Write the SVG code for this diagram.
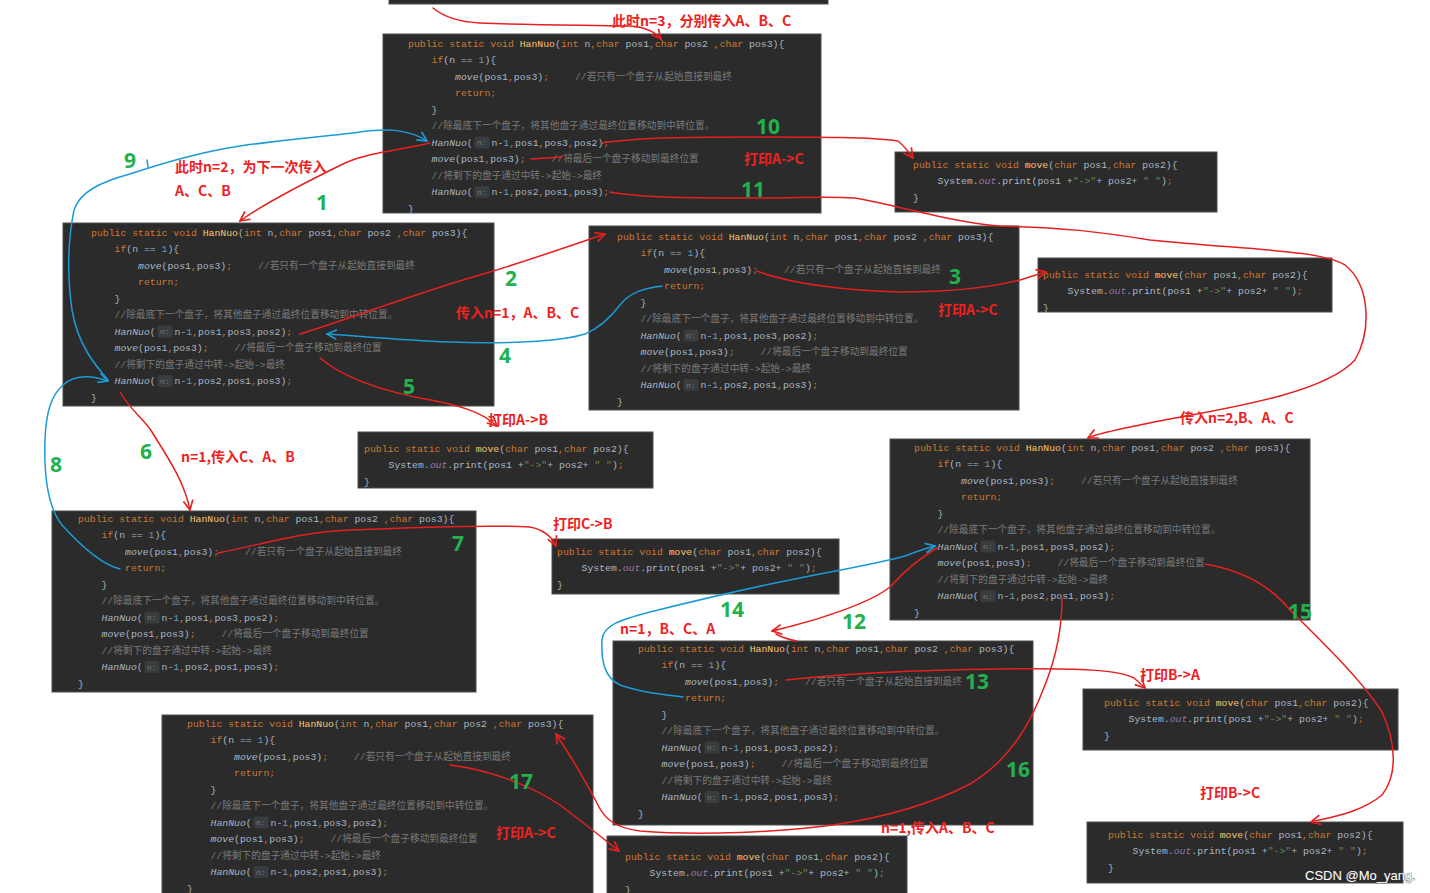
<svg xmlns="http://www.w3.org/2000/svg" width="1430" height="893" viewBox="0 0 1430 893">
<style>
.bg{fill:#2b2b2b;stroke:#4e4e4e;stroke-width:1}
.c{font-family:"Liberation Mono","DejaVu Sans Mono",monospace;font-size:9.8px;white-space:pre}
.m{font-family:"Liberation Mono","Noto Sans CJK SC",monospace;font-size:9.7px;fill:#7a7a7a;white-space:pre}
.k{fill:#cc7832}
.f{fill:#ffc66d}
.t{fill:#a9b7c6}
.n{fill:#6897bb}
.i{font-style:italic}
.p{fill:#9876aa}
.s{fill:#6a8759}
.h{fill:#3a3d40}
.hn{font-family:"Liberation Mono",monospace;font-size:8px;fill:#787878}
.r{font-family:"Noto Sans CJK SC",sans-serif;font-weight:700;font-size:14px;fill:#ee2222}
.g{font-family:"Noto Sans","Noto Sans CJK SC",sans-serif;font-weight:700;font-size:21px;fill:#22b14c;text-anchor:middle}
.lr{fill:none;stroke:#e62020;stroke-width:1.5;stroke-linecap:round;stroke-linejoin:round}
.lb{fill:none;stroke:#1c9ad6;stroke-width:1.5;stroke-linecap:round;stroke-linejoin:round}
.wm{font-family:"Liberation Sans","Noto Sans",sans-serif;font-size:13px;fill:#ffffff;stroke:#444;stroke-width:0.7;paint-order:stroke}
</style>
<defs>
<marker id="ar" viewBox="0 0 10 10" refX="9" refY="5" markerWidth="12" markerHeight="12" markerUnits="userSpaceOnUse" orient="auto"><path d="M1,1 L9,5 L1,9" fill="none" stroke="#e62020" stroke-width="1.4"/></marker>
<marker id="ab" viewBox="0 0 10 10" refX="9" refY="5" markerWidth="12" markerHeight="12" markerUnits="userSpaceOnUse" orient="auto"><path d="M1,1 L9,5 L1,9" fill="none" stroke="#1c9ad6" stroke-width="1.4"/></marker>
</defs>
<rect width="1430" height="893" fill="#ffffff"/>

<g id="top-strip"><rect class="bg" x="389" y="-2" width="439" height="6"/></g>

<!-- HanNuo block 1 -->
<g id="hannuo-n3">
<rect class="bg" x="383" y="34" width="438" height="179"/>
<g transform="translate(408,46.5)">
<text class="c" y="0"><tspan class="k">public static void </tspan><tspan class="f">HanNuo</tspan><tspan class="t">(</tspan><tspan class="k">int </tspan><tspan class="t">n</tspan><tspan class="k">,char </tspan><tspan class="t">pos1</tspan><tspan class="k">,char </tspan><tspan class="t">pos2 </tspan><tspan class="k">,char </tspan><tspan class="t">pos3){</tspan></text>
<text class="c" x="23.5" y="16.5"><tspan class="k">if</tspan><tspan class="t">(n == </tspan><tspan class="n">1</tspan><tspan class="t">){</tspan></text>
<text class="c" x="47" y="33"><tspan class="t i">move</tspan><tspan class="t">(pos1</tspan><tspan class="k">,</tspan><tspan class="t">pos3)</tspan><tspan class="k">;</tspan></text>
<text class="m" x="167" y="33">//若只有一个盘子从起始直接到最终</text>
<text class="c k" x="47" y="49.5">return;</text>
<text class="c t" x="23.5" y="66">}</text>
<text class="m" x="23.5" y="82.5">//除最底下一个盘子，将其他盘子通过最终位置移动到中转位置。</text>
<text class="c" x="23.5" y="99"><tspan class="t i">HanNuo</tspan><tspan class="t">(</tspan></text>
<rect class="h" x="66.5" y="90" width="15" height="12" rx="2"/><text class="hn" x="69" y="98.5">n:</text>
<text class="c" x="83.5" y="99"><tspan class="t">n-</tspan><tspan class="n">1</tspan><tspan class="k">,</tspan><tspan class="t">pos1</tspan><tspan class="k">,</tspan><tspan class="t">pos3</tspan><tspan class="k">,</tspan><tspan class="t">pos2)</tspan><tspan class="k">;</tspan></text>
<text class="c" x="23.5" y="115.5"><tspan class="t i">move</tspan><tspan class="t">(pos1</tspan><tspan class="k">,</tspan><tspan class="t">pos3)</tspan><tspan class="k">;</tspan></text>
<text class="m" x="143.5" y="115.5">//将最后一个盘子移动到最终位置</text>
<text class="m" x="23.5" y="132">//将剩下的盘子通过中转-&gt;起始-&gt;最终</text>
<text class="c" x="23.5" y="148.5"><tspan class="t i">HanNuo</tspan><tspan class="t">(</tspan></text>
<rect class="h" x="66.5" y="139.5" width="15" height="12" rx="2"/><text class="hn" x="69" y="148">n:</text>
<text class="c" x="83.5" y="148.5"><tspan class="t">n-</tspan><tspan class="n">1</tspan><tspan class="k">,</tspan><tspan class="t">pos2</tspan><tspan class="k">,</tspan><tspan class="t">pos1</tspan><tspan class="k">,</tspan><tspan class="t">pos3)</tspan><tspan class="k">;</tspan></text>
<text class="c t" y="165">}</text>
</g>
</g>

<!-- HanNuo block 2 -->
<g id="hannuo-n2-acb">
<rect class="bg" x="63" y="223" width="431" height="183"/>
<g transform="translate(91,235.5)">
<text class="c" y="0"><tspan class="k">public static void </tspan><tspan class="f">HanNuo</tspan><tspan class="t">(</tspan><tspan class="k">int </tspan><tspan class="t">n</tspan><tspan class="k">,char </tspan><tspan class="t">pos1</tspan><tspan class="k">,char </tspan><tspan class="t">pos2 </tspan><tspan class="k">,char </tspan><tspan class="t">pos3){</tspan></text>
<text class="c" x="23.5" y="16.5"><tspan class="k">if</tspan><tspan class="t">(n == </tspan><tspan class="n">1</tspan><tspan class="t">){</tspan></text>
<text class="c" x="47" y="33"><tspan class="t i">move</tspan><tspan class="t">(pos1</tspan><tspan class="k">,</tspan><tspan class="t">pos3)</tspan><tspan class="k">;</tspan></text>
<text class="m" x="167" y="33">//若只有一个盘子从起始直接到最终</text>
<text class="c k" x="47" y="49.5">return;</text>
<text class="c t" x="23.5" y="66">}</text>
<text class="m" x="23.5" y="82.5">//除最底下一个盘子，将其他盘子通过最终位置移动到中转位置。</text>
<text class="c" x="23.5" y="99"><tspan class="t i">HanNuo</tspan><tspan class="t">(</tspan></text>
<rect class="h" x="66.5" y="90" width="15" height="12" rx="2"/><text class="hn" x="69" y="98.5">n:</text>
<text class="c" x="83.5" y="99"><tspan class="t">n-</tspan><tspan class="n">1</tspan><tspan class="k">,</tspan><tspan class="t">pos1</tspan><tspan class="k">,</tspan><tspan class="t">pos3</tspan><tspan class="k">,</tspan><tspan class="t">pos2)</tspan><tspan class="k">;</tspan></text>
<text class="c" x="23.5" y="115.5"><tspan class="t i">move</tspan><tspan class="t">(pos1</tspan><tspan class="k">,</tspan><tspan class="t">pos3)</tspan><tspan class="k">;</tspan></text>
<text class="m" x="143.5" y="115.5">//将最后一个盘子移动到最终位置</text>
<text class="m" x="23.5" y="132">//将剩下的盘子通过中转-&gt;起始-&gt;最终</text>
<text class="c" x="23.5" y="148.5"><tspan class="t i">HanNuo</tspan><tspan class="t">(</tspan></text>
<rect class="h" x="66.5" y="139.5" width="15" height="12" rx="2"/><text class="hn" x="69" y="148">n:</text>
<text class="c" x="83.5" y="148.5"><tspan class="t">n-</tspan><tspan class="n">1</tspan><tspan class="k">,</tspan><tspan class="t">pos2</tspan><tspan class="k">,</tspan><tspan class="t">pos1</tspan><tspan class="k">,</tspan><tspan class="t">pos3)</tspan><tspan class="k">;</tspan></text>
<text class="c t" y="165">}</text>
</g>
</g>

<!-- HanNuo block 3 -->
<g id="hannuo-n1-abc">
<rect class="bg" x="589" y="226" width="430" height="184"/>
<g transform="translate(617,239.5)">
<text class="c" y="0"><tspan class="k">public static void </tspan><tspan class="f">HanNuo</tspan><tspan class="t">(</tspan><tspan class="k">int </tspan><tspan class="t">n</tspan><tspan class="k">,char </tspan><tspan class="t">pos1</tspan><tspan class="k">,char </tspan><tspan class="t">pos2 </tspan><tspan class="k">,char </tspan><tspan class="t">pos3){</tspan></text>
<text class="c" x="23.5" y="16.5"><tspan class="k">if</tspan><tspan class="t">(n == </tspan><tspan class="n">1</tspan><tspan class="t">){</tspan></text>
<text class="c" x="47" y="33"><tspan class="t i">move</tspan><tspan class="t">(pos1</tspan><tspan class="k">,</tspan><tspan class="t">pos3)</tspan><tspan class="k">;</tspan></text>
<text class="m" x="167" y="33">//若只有一个盘子从起始直接到最终</text>
<text class="c k" x="47" y="49.5">return;</text>
<text class="c t" x="23.5" y="66">}</text>
<text class="m" x="23.5" y="82.5">//除最底下一个盘子，将其他盘子通过最终位置移动到中转位置。</text>
<text class="c" x="23.5" y="99"><tspan class="t i">HanNuo</tspan><tspan class="t">(</tspan></text>
<rect class="h" x="66.5" y="90" width="15" height="12" rx="2"/><text class="hn" x="69" y="98.5">n:</text>
<text class="c" x="83.5" y="99"><tspan class="t">n-</tspan><tspan class="n">1</tspan><tspan class="k">,</tspan><tspan class="t">pos1</tspan><tspan class="k">,</tspan><tspan class="t">pos3</tspan><tspan class="k">,</tspan><tspan class="t">pos2)</tspan><tspan class="k">;</tspan></text>
<text class="c" x="23.5" y="115.5"><tspan class="t i">move</tspan><tspan class="t">(pos1</tspan><tspan class="k">,</tspan><tspan class="t">pos3)</tspan><tspan class="k">;</tspan></text>
<text class="m" x="143.5" y="115.5">//将最后一个盘子移动到最终位置</text>
<text class="m" x="23.5" y="132">//将剩下的盘子通过中转-&gt;起始-&gt;最终</text>
<text class="c" x="23.5" y="148.5"><tspan class="t i">HanNuo</tspan><tspan class="t">(</tspan></text>
<rect class="h" x="66.5" y="139.5" width="15" height="12" rx="2"/><text class="hn" x="69" y="148">n:</text>
<text class="c" x="83.5" y="148.5"><tspan class="t">n-</tspan><tspan class="n">1</tspan><tspan class="k">,</tspan><tspan class="t">pos2</tspan><tspan class="k">,</tspan><tspan class="t">pos1</tspan><tspan class="k">,</tspan><tspan class="t">pos3)</tspan><tspan class="k">;</tspan></text>
<text class="c t" y="165">}</text>
</g>
</g>

<!-- HanNuo block 4 (n=2, B A C) -->
<g id="hannuo-n2-bac">
<rect class="bg" x="890" y="439" width="420" height="181"/>
<g transform="translate(914,450.5)">
<text class="c" y="0"><tspan class="k">public static void </tspan><tspan class="f">HanNuo</tspan><tspan class="t">(</tspan><tspan class="k">int </tspan><tspan class="t">n</tspan><tspan class="k">,char </tspan><tspan class="t">pos1</tspan><tspan class="k">,char </tspan><tspan class="t">pos2 </tspan><tspan class="k">,char </tspan><tspan class="t">pos3){</tspan></text>
<text class="c" x="23.5" y="16.5"><tspan class="k">if</tspan><tspan class="t">(n == </tspan><tspan class="n">1</tspan><tspan class="t">){</tspan></text>
<text class="c" x="47" y="33"><tspan class="t i">move</tspan><tspan class="t">(pos1</tspan><tspan class="k">,</tspan><tspan class="t">pos3)</tspan><tspan class="k">;</tspan></text>
<text class="m" x="167" y="33">//若只有一个盘子从起始直接到最终</text>
<text class="c k" x="47" y="49.5">return;</text>
<text class="c t" x="23.5" y="66">}</text>
<text class="m" x="23.5" y="82.5">//除最底下一个盘子，将其他盘子通过最终位置移动到中转位置。</text>
<text class="c" x="23.5" y="99"><tspan class="t i">HanNuo</tspan><tspan class="t">(</tspan></text>
<rect class="h" x="66.5" y="90" width="15" height="12" rx="2"/><text class="hn" x="69" y="98.5">n:</text>
<text class="c" x="83.5" y="99"><tspan class="t">n-</tspan><tspan class="n">1</tspan><tspan class="k">,</tspan><tspan class="t">pos1</tspan><tspan class="k">,</tspan><tspan class="t">pos3</tspan><tspan class="k">,</tspan><tspan class="t">pos2)</tspan><tspan class="k">;</tspan></text>
<text class="c" x="23.5" y="115.5"><tspan class="t i">move</tspan><tspan class="t">(pos1</tspan><tspan class="k">,</tspan><tspan class="t">pos3)</tspan><tspan class="k">;</tspan></text>
<text class="m" x="143.5" y="115.5">//将最后一个盘子移动到最终位置</text>
<text class="m" x="23.5" y="132">//将剩下的盘子通过中转-&gt;起始-&gt;最终</text>
<text class="c" x="23.5" y="148.5"><tspan class="t i">HanNuo</tspan><tspan class="t">(</tspan></text>
<rect class="h" x="66.5" y="139.5" width="15" height="12" rx="2"/><text class="hn" x="69" y="148">n:</text>
<text class="c" x="83.5" y="148.5"><tspan class="t">n-</tspan><tspan class="n">1</tspan><tspan class="k">,</tspan><tspan class="t">pos2</tspan><tspan class="k">,</tspan><tspan class="t">pos1</tspan><tspan class="k">,</tspan><tspan class="t">pos3)</tspan><tspan class="k">;</tspan></text>
<text class="c t" y="165">}</text>
</g>
</g>

<!-- HanNuo block 5 (n=1, C A B) -->
<g id="hannuo-n1-cab">
<rect class="bg" x="52" y="511" width="424" height="181"/>
<g transform="translate(78,521.5)">
<text class="c" y="0"><tspan class="k">public static void </tspan><tspan class="f">HanNuo</tspan><tspan class="t">(</tspan><tspan class="k">int </tspan><tspan class="t">n</tspan><tspan class="k">,char </tspan><tspan class="t">pos1</tspan><tspan class="k">,char </tspan><tspan class="t">pos2 </tspan><tspan class="k">,char </tspan><tspan class="t">pos3){</tspan></text>
<text class="c" x="23.5" y="16.5"><tspan class="k">if</tspan><tspan class="t">(n == </tspan><tspan class="n">1</tspan><tspan class="t">){</tspan></text>
<text class="c" x="47" y="33"><tspan class="t i">move</tspan><tspan class="t">(pos1</tspan><tspan class="k">,</tspan><tspan class="t">pos3)</tspan><tspan class="k">;</tspan></text>
<text class="m" x="167" y="33">//若只有一个盘子从起始直接到最终</text>
<text class="c k" x="47" y="49.5">return;</text>
<text class="c t" x="23.5" y="66">}</text>
<text class="m" x="23.5" y="82.5">//除最底下一个盘子，将其他盘子通过最终位置移动到中转位置。</text>
<text class="c" x="23.5" y="99"><tspan class="t i">HanNuo</tspan><tspan class="t">(</tspan></text>
<rect class="h" x="66.5" y="90" width="15" height="12" rx="2"/><text class="hn" x="69" y="98.5">n:</text>
<text class="c" x="83.5" y="99"><tspan class="t">n-</tspan><tspan class="n">1</tspan><tspan class="k">,</tspan><tspan class="t">pos1</tspan><tspan class="k">,</tspan><tspan class="t">pos3</tspan><tspan class="k">,</tspan><tspan class="t">pos2)</tspan><tspan class="k">;</tspan></text>
<text class="c" x="23.5" y="115.5"><tspan class="t i">move</tspan><tspan class="t">(pos1</tspan><tspan class="k">,</tspan><tspan class="t">pos3)</tspan><tspan class="k">;</tspan></text>
<text class="m" x="143.5" y="115.5">//将最后一个盘子移动到最终位置</text>
<text class="m" x="23.5" y="132">//将剩下的盘子通过中转-&gt;起始-&gt;最终</text>
<text class="c" x="23.5" y="148.5"><tspan class="t i">HanNuo</tspan><tspan class="t">(</tspan></text>
<rect class="h" x="66.5" y="139.5" width="15" height="12" rx="2"/><text class="hn" x="69" y="148">n:</text>
<text class="c" x="83.5" y="148.5"><tspan class="t">n-</tspan><tspan class="n">1</tspan><tspan class="k">,</tspan><tspan class="t">pos2</tspan><tspan class="k">,</tspan><tspan class="t">pos1</tspan><tspan class="k">,</tspan><tspan class="t">pos3)</tspan><tspan class="k">;</tspan></text>
<text class="c t" y="165">}</text>
</g>
</g>

<!-- HanNuo block 6 (n=1, B C A) -->
<g id="hannuo-n1-bca">
<rect class="bg" x="613" y="641" width="420" height="184"/>
<g transform="translate(638,651.5)">
<text class="c" y="0"><tspan class="k">public static void </tspan><tspan class="f">HanNuo</tspan><tspan class="t">(</tspan><tspan class="k">int </tspan><tspan class="t">n</tspan><tspan class="k">,char </tspan><tspan class="t">pos1</tspan><tspan class="k">,char </tspan><tspan class="t">pos2 </tspan><tspan class="k">,char </tspan><tspan class="t">pos3){</tspan></text>
<text class="c" x="23.5" y="16.5"><tspan class="k">if</tspan><tspan class="t">(n == </tspan><tspan class="n">1</tspan><tspan class="t">){</tspan></text>
<text class="c" x="47" y="33"><tspan class="t i">move</tspan><tspan class="t">(pos1</tspan><tspan class="k">,</tspan><tspan class="t">pos3)</tspan><tspan class="k">;</tspan></text>
<text class="m" x="167" y="33">//若只有一个盘子从起始直接到最终</text>
<text class="c k" x="47" y="49.5">return;</text>
<text class="c t" x="23.5" y="66">}</text>
<text class="m" x="23.5" y="82.5">//除最底下一个盘子，将其他盘子通过最终位置移动到中转位置。</text>
<text class="c" x="23.5" y="99"><tspan class="t i">HanNuo</tspan><tspan class="t">(</tspan></text>
<rect class="h" x="66.5" y="90" width="15" height="12" rx="2"/><text class="hn" x="69" y="98.5">n:</text>
<text class="c" x="83.5" y="99"><tspan class="t">n-</tspan><tspan class="n">1</tspan><tspan class="k">,</tspan><tspan class="t">pos1</tspan><tspan class="k">,</tspan><tspan class="t">pos3</tspan><tspan class="k">,</tspan><tspan class="t">pos2)</tspan><tspan class="k">;</tspan></text>
<text class="c" x="23.5" y="115.5"><tspan class="t i">move</tspan><tspan class="t">(pos1</tspan><tspan class="k">,</tspan><tspan class="t">pos3)</tspan><tspan class="k">;</tspan></text>
<text class="m" x="143.5" y="115.5">//将最后一个盘子移动到最终位置</text>
<text class="m" x="23.5" y="132">//将剩下的盘子通过中转-&gt;起始-&gt;最终</text>
<text class="c" x="23.5" y="148.5"><tspan class="t i">HanNuo</tspan><tspan class="t">(</tspan></text>
<rect class="h" x="66.5" y="139.5" width="15" height="12" rx="2"/><text class="hn" x="69" y="148">n:</text>
<text class="c" x="83.5" y="148.5"><tspan class="t">n-</tspan><tspan class="n">1</tspan><tspan class="k">,</tspan><tspan class="t">pos2</tspan><tspan class="k">,</tspan><tspan class="t">pos1</tspan><tspan class="k">,</tspan><tspan class="t">pos3)</tspan><tspan class="k">;</tspan></text>
<text class="c t" y="165">}</text>
</g>
</g>

<!-- HanNuo block 7 (n=1, A B C) -->
<g id="hannuo-n1-abc-2">
<rect class="bg" x="162" y="715" width="431" height="182"/>
<g transform="translate(187,726.5)">
<text class="c" y="0"><tspan class="k">public static void </tspan><tspan class="f">HanNuo</tspan><tspan class="t">(</tspan><tspan class="k">int </tspan><tspan class="t">n</tspan><tspan class="k">,char </tspan><tspan class="t">pos1</tspan><tspan class="k">,char </tspan><tspan class="t">pos2 </tspan><tspan class="k">,char </tspan><tspan class="t">pos3){</tspan></text>
<text class="c" x="23.5" y="16.5"><tspan class="k">if</tspan><tspan class="t">(n == </tspan><tspan class="n">1</tspan><tspan class="t">){</tspan></text>
<text class="c" x="47" y="33"><tspan class="t i">move</tspan><tspan class="t">(pos1</tspan><tspan class="k">,</tspan><tspan class="t">pos3)</tspan><tspan class="k">;</tspan></text>
<text class="m" x="167" y="33">//若只有一个盘子从起始直接到最终</text>
<text class="c k" x="47" y="49.5">return;</text>
<text class="c t" x="23.5" y="66">}</text>
<text class="m" x="23.5" y="82.5">//除最底下一个盘子，将其他盘子通过最终位置移动到中转位置。</text>
<text class="c" x="23.5" y="99"><tspan class="t i">HanNuo</tspan><tspan class="t">(</tspan></text>
<rect class="h" x="66.5" y="90" width="15" height="12" rx="2"/><text class="hn" x="69" y="98.5">n:</text>
<text class="c" x="83.5" y="99"><tspan class="t">n-</tspan><tspan class="n">1</tspan><tspan class="k">,</tspan><tspan class="t">pos1</tspan><tspan class="k">,</tspan><tspan class="t">pos3</tspan><tspan class="k">,</tspan><tspan class="t">pos2)</tspan><tspan class="k">;</tspan></text>
<text class="c" x="23.5" y="115.5"><tspan class="t i">move</tspan><tspan class="t">(pos1</tspan><tspan class="k">,</tspan><tspan class="t">pos3)</tspan><tspan class="k">;</tspan></text>
<text class="m" x="143.5" y="115.5">//将最后一个盘子移动到最终位置</text>
<text class="m" x="23.5" y="132">//将剩下的盘子通过中转-&gt;起始-&gt;最终</text>
<text class="c" x="23.5" y="148.5"><tspan class="t i">HanNuo</tspan><tspan class="t">(</tspan></text>
<rect class="h" x="66.5" y="139.5" width="15" height="12" rx="2"/><text class="hn" x="69" y="148">n:</text>
<text class="c" x="83.5" y="148.5"><tspan class="t">n-</tspan><tspan class="n">1</tspan><tspan class="k">,</tspan><tspan class="t">pos2</tspan><tspan class="k">,</tspan><tspan class="t">pos1</tspan><tspan class="k">,</tspan><tspan class="t">pos3)</tspan><tspan class="k">;</tspan></text>
<text class="c t" y="165">}</text>
</g>
</g>

<!-- move blocks -->
<g id="move-1">
<rect class="bg" x="895" y="152" width="322" height="60"/>
<g transform="translate(913,167.5)">
<text class="c" y="0"><tspan class="k">public static void </tspan><tspan class="f">move</tspan><tspan class="t">(</tspan><tspan class="k">char </tspan><tspan class="t">pos1</tspan><tspan class="k">,char </tspan><tspan class="t">pos2){</tspan></text>
<text class="c" x="24.5" y="16.5"><tspan class="t">System.</tspan><tspan class="p i">out</tspan><tspan class="t">.print(pos1 +</tspan><tspan class="s">"-&gt;"</tspan><tspan class="t">+ pos2+ </tspan><tspan class="s">" "</tspan><tspan class="t">)</tspan><tspan class="k">;</tspan></text>
<text class="c t" y="33">}</text>
</g>
</g>
<g id="move-2">
<rect class="bg" x="1038" y="258" width="294" height="54"/>
<g transform="translate(1043,277.5)">
<text class="c" y="0"><tspan class="k">public static void </tspan><tspan class="f">move</tspan><tspan class="t">(</tspan><tspan class="k">char </tspan><tspan class="t">pos1</tspan><tspan class="k">,char </tspan><tspan class="t">pos2){</tspan></text>
<text class="c" x="24.5" y="16.5"><tspan class="t">System.</tspan><tspan class="p i">out</tspan><tspan class="t">.print(pos1 +</tspan><tspan class="s">"-&gt;"</tspan><tspan class="t">+ pos2+ </tspan><tspan class="s">" "</tspan><tspan class="t">)</tspan><tspan class="k">;</tspan></text>
<text class="c t" y="33">}</text>
</g>
</g>
<g id="move-3">
<rect class="bg" x="358" y="432" width="295" height="56"/>
<g transform="translate(364,451.5)">
<text class="c" y="0"><tspan class="k">public static void </tspan><tspan class="f">move</tspan><tspan class="t">(</tspan><tspan class="k">char </tspan><tspan class="t">pos1</tspan><tspan class="k">,char </tspan><tspan class="t">pos2){</tspan></text>
<text class="c" x="24.5" y="16.5"><tspan class="t">System.</tspan><tspan class="p i">out</tspan><tspan class="t">.print(pos1 +</tspan><tspan class="s">"-&gt;"</tspan><tspan class="t">+ pos2+ </tspan><tspan class="s">" "</tspan><tspan class="t">)</tspan><tspan class="k">;</tspan></text>
<text class="c t" y="33">}</text>
</g>
</g>
<g id="move-4">
<rect class="bg" x="552" y="539" width="287" height="55"/>
<g transform="translate(557,554.5)">
<text class="c" y="0"><tspan class="k">public static void </tspan><tspan class="f">move</tspan><tspan class="t">(</tspan><tspan class="k">char </tspan><tspan class="t">pos1</tspan><tspan class="k">,char </tspan><tspan class="t">pos2){</tspan></text>
<text class="c" x="24.5" y="16.5"><tspan class="t">System.</tspan><tspan class="p i">out</tspan><tspan class="t">.print(pos1 +</tspan><tspan class="s">"-&gt;"</tspan><tspan class="t">+ pos2+ </tspan><tspan class="s">" "</tspan><tspan class="t">)</tspan><tspan class="k">;</tspan></text>
<text class="c t" y="33">}</text>
</g>
</g>
<g id="move-5">
<rect class="bg" x="1083" y="689" width="315" height="61"/>
<g transform="translate(1104,705.5)">
<text class="c" y="0"><tspan class="k">public static void </tspan><tspan class="f">move</tspan><tspan class="t">(</tspan><tspan class="k">char </tspan><tspan class="t">pos1</tspan><tspan class="k">,char </tspan><tspan class="t">pos2){</tspan></text>
<text class="c" x="24.5" y="16.5"><tspan class="t">System.</tspan><tspan class="p i">out</tspan><tspan class="t">.print(pos1 +</tspan><tspan class="s">"-&gt;"</tspan><tspan class="t">+ pos2+ </tspan><tspan class="s">" "</tspan><tspan class="t">)</tspan><tspan class="k">;</tspan></text>
<text class="c t" y="33">}</text>
</g>
</g>
<g id="move-6">
<rect class="bg" x="607" y="836" width="300" height="60"/>
<g transform="translate(625,859.5)">
<text class="c" y="0"><tspan class="k">public static void </tspan><tspan class="f">move</tspan><tspan class="t">(</tspan><tspan class="k">char </tspan><tspan class="t">pos1</tspan><tspan class="k">,char </tspan><tspan class="t">pos2){</tspan></text>
<text class="c" x="24.5" y="16.5"><tspan class="t">System.</tspan><tspan class="p i">out</tspan><tspan class="t">.print(pos1 +</tspan><tspan class="s">"-&gt;"</tspan><tspan class="t">+ pos2+ </tspan><tspan class="s">" "</tspan><tspan class="t">)</tspan><tspan class="k">;</tspan></text>
<text class="c t" y="33">}</text>
</g>
</g>
<g id="move-7">
<rect class="bg" x="1087" y="822" width="316" height="61"/>
<g transform="translate(1108,837.5)">
<text class="c" y="0"><tspan class="k">public static void </tspan><tspan class="f">move</tspan><tspan class="t">(</tspan><tspan class="k">char </tspan><tspan class="t">pos1</tspan><tspan class="k">,char </tspan><tspan class="t">pos2){</tspan></text>
<text class="c" x="24.5" y="16.5"><tspan class="t">System.</tspan><tspan class="p i">out</tspan><tspan class="t">.print(pos1 +</tspan><tspan class="s">"-&gt;"</tspan><tspan class="t">+ pos2+ </tspan><tspan class="s">" "</tspan><tspan class="t">)</tspan><tspan class="k">;</tspan></text>
<text class="c t" y="33">}</text>
</g>
</g>

<!-- connectors -->
<g id="connectors">
<path class="lr" marker-end="url(#ar)" d="M433,8 C445,18 460,22 480,23 C530,25 580,25 630,26 C645,27 655,32 661,39"/>
<path class="lr" marker-end="url(#ar)" d="M430,143 C400,150 370,152 345,163 C300,185 262,205 240,221"/>
<path class="lr" marker-end="url(#ar)" d="M602,143 C640,137 700,137 760,137 C820,137 870,137 898,141 C904,146 908,151 913,158"/>
<path class="lr" d="M531,159 L562,157"/>
<path class="lr" marker-end="url(#ar)" d="M610,192 C640,198 700,198 760,198 C800,198 830,196 855,198 C900,206 960,224 1000,226 C1060,227 1100,232 1150,240 C1250,250 1320,250 1345,265 C1370,285 1372,330 1355,360 C1320,398 1200,412 1140,425 C1110,431 1096,434 1088,438"/>
<path class="lr" marker-end="url(#ar)" d="M300,334 C360,315 420,292 480,275 C530,260 570,246 605,234"/>
<path class="lr" marker-end="url(#ar)" d="M757,271 C790,284 850,291 900,292 C960,292 1000,285 1020,280 C1030,277 1038,274 1046,272"/>
<path class="lr" marker-end="url(#ar)" d="M320,358 C340,375 370,388 420,398 C460,405 482,412 497,426"/>
<path class="lr" marker-end="url(#ar)" d="M120,392 C130,410 145,420 152,432 C166,455 184,480 190,510"/>
<path class="lr" marker-end="url(#ar)" d="M218,553 C260,545 300,532 350,530 C420,527 490,525 530,527 C545,530 552,537 556,546"/>
<path class="lr" marker-end="url(#ar)" d="M937,548 C920,558 905,570 890,587 C870,603 820,619 792,626 C784,628 778,630 772,631"/>
<path class="lr" d="M776,634 C783,638 790,640 797,641"/>
<path class="lr" marker-end="url(#ar)" d="M786,680 C830,675 900,670 1000,669 C1080,668 1120,670 1134,678 C1139,682 1142,685 1145,688"/>
<path class="lr" marker-end="url(#ar)" d="M1205,564 C1240,570 1270,585 1290,610 C1320,640 1362,680 1382,712 C1396,742 1398,775 1382,795 C1362,812 1332,817 1311,822"/>
<path class="lr" marker-end="url(#ar)" d="M1062,598 C1062,630 1055,660 1045,685 C1030,725 1010,760 970,784 C930,805 880,818 833,825 C780,832 700,836 640,831 C615,828 604,818 598,805 C585,780 572,758 556,734"/>
<path class="lr" marker-end="url(#ar)" d="M450,765 C490,770 530,785 560,805 C580,820 600,836 619,851"/>
<path class="lb" marker-end="url(#ab)" d="M108,380 C95,365 78,345 72,310 C67,275 68,240 74,210 C80,192 100,182 130,174 C160,164 200,152 240,146 C290,139 330,136 360,132 C390,128 410,130 427,141"/>
<path class="lb" marker-end="url(#ab)" d="M120,569 C100,564 80,545 62,525 C46,505 44,470 45,440 C46,410 52,395 63,385 C73,376 88,374 108,381"/>
<path class="lb" marker-end="url(#ab)" d="M662,286 C645,288 630,292 620,305 C610,318 600,328 585,334 C560,342 500,344 450,342 C400,340 360,336 327,334"/>
<path class="lb" marker-end="url(#ab)" d="M683,697 C660,694 640,692 620,685 C605,678 601,662 602,640 C603,625 620,620 650,612 C690,602 740,590 790,580 C840,570 880,563 905,556 C918,551 926,548 935,546"/>
<path class="lb" d="M147,160 L148,167"/>
</g>

<!-- annotations -->
<g id="annotations">
<text class="r" x="612" y="26">此时n=3，分别传入A、B、C</text>
<text class="r" x="175" y="172">此时n=2，为下一次传入</text>
<text class="r" x="175" y="196">A、C、B</text>
<text class="r" x="744" y="164">打印A-&gt;C</text>
<text class="r" x="456" y="318">传入n=1，A、B、C</text>
<text class="r" x="938" y="315">打印A-&gt;C</text>
<text class="r" x="488" y="425">打印A-&gt;B</text>
<text class="r" x="1180" y="423">传入n=2,B、A、C</text>
<text class="r" x="181" y="462">n=1,传入C、A、B</text>
<text class="r" x="553" y="529">打印C-&gt;B</text>
<text class="r" x="620" y="634">n=1，B、C、A</text>
<text class="r" x="1140" y="680">打印B-&gt;A</text>
<text class="r" x="1200" y="798">打印B-&gt;C</text>
<text class="r" x="496" y="838">打印A-&gt;C</text>
<text class="r" x="881" y="833">n=1,传入A、B、C</text>
<text class="g" x="768" y="134">10</text>
<text class="g" x="753" y="197">11</text>
<text class="g" x="130" y="168">9</text>
<text class="g" x="322" y="210">1</text>
<text class="g" x="511" y="286">2</text>
<text class="g" x="955" y="284">3</text>
<text class="g" x="505" y="363">4</text>
<text class="g" x="409" y="394">5</text>
<text class="g" x="146" y="459">6</text>
<text class="g" x="56" y="472">8</text>
<text class="g" x="458" y="551">7</text>
<text class="g" x="732" y="617">14</text>
<text class="g" x="854" y="629">12</text>
<text class="g" x="977" y="689">13</text>
<text class="g" x="1300" y="619">15</text>
<text class="g" x="1018" y="777">16</text>
<text class="g" x="521" y="789">17</text>
<text class="wm" x="1305" y="880">CSDN @Mo_yang.</text>
</g>
</svg>
